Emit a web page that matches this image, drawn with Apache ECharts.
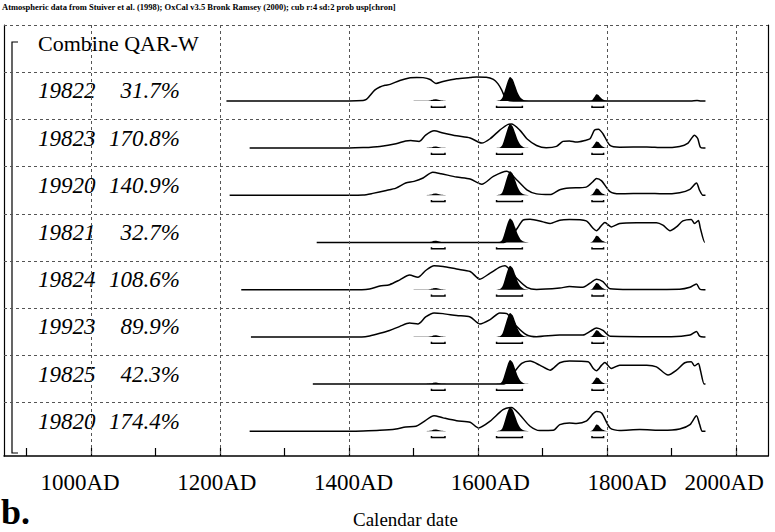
<!DOCTYPE html>
<html><head><meta charset="utf-8">
<script src="https://cdn.jsdelivr.net/npm/echarts@6/dist/echarts.min.js"></script>
<style>html,body{margin:0;padding:0;background:#fff}#c{width:775px;height:532px}</style>
</head><body><div id="c"></div><script>
// ---------- data ----------
const headerText = 'Atmospheric data from Stuiver et al. (1998); OxCal v3.5 Bronk Ramsey (2000); cub r:4 sd:2 prob usp[chron]';
const groupName = 'Combine QAR-W';
const sampleNames = ['19822','19823','19920','19821','19824','19923','19825','19820'];
const agreement = ['31.7%','170.8%','140.9%','32.7%','108.6%','89.9%','42.3%','174.4%'];
const rangeStart = [1210,1246,1215,1350,1233,1248,1344,1246];
const rangeEnd = 1953;
const tickYears = [900,1000,1100,1200,1300,1400,1500,1600,1700,1800,1900,2000];
const labelYears = [1000,1200,1400,1600,1800,2000];
const xLabel = 'Calendar date';
const panelTag = 'b.';

// combined posterior (same in every row), relative probability
const posterior = [[1500,0],[1520,0.005],[1526,0.02],[1530,0.05],[1534,0.07],[1540,0.04],[1547,0.01],[1555,0],
  [1626,0],[1631,0.01],[1635,0.04],[1638,0.13],[1642,0.45],[1646,0.8],[1650,1],[1654,0.9],[1658,0.62],[1662,0.33],[1666,0.14],[1671,0.04],[1676,0.01],[1682,0],
  [1773,0],[1777,0.03],[1781,0.17],[1784,0.28],[1787,0.25],[1790,0.15],[1794,0.06],[1799,0.01],[1805,0]];
// 95% ranges of the posterior
const rangeBars = [[1528,1549],[1629,1669],[1777,1795]];

// individual calibrated dates (priors), relative probability
const prior19822 = [[1400,0],[1422,0.02],[1427,0.06],[1432,0.2],[1440,0.45],[1448,0.58],[1456,0.65],[1464,0.69],[1479,0.85],[1495,0.96],[1505,0.98],[1515,0.97],[1526,0.89],[1535,0.73],[1546,0.81],[1567,0.92],[1588,0.97],[1598,1.0],[1613,0.99],[1624,0.9],[1631,0.72],[1637,0.45],[1642,0.15],[1647,0.02],[1655,0],[1930,0],[1940,0.02],[1946,0]];
const prior19823 = [[1400,0],[1422,0.02],[1448,0.07],[1473,0.18],[1488,0.3],[1496,0.32],[1509,0.28],[1519,0.54],[1532,0.72],[1546,0.63],[1567,0.51],[1588,0.42],[1606,0.21],[1619,0.39],[1634,0.75],[1647,0.99],[1652,1.0],[1665,0.75],[1676,0.39],[1691,0.11],[1706,0.01],[1722,0.07],[1732,0.28],[1742,0.3],[1753,0.25],[1766,0.32],[1774,0.39],[1781,0.75],[1787,0.79],[1794,0.6],[1805,0.11],[1820,0.04],[1862,0.05],[1887,0.02],[1913,0.07],[1926,0.21],[1936,0.54],[1941,0.4],[1945,0.04],[1950,0]];
const prior19920 = [[1400,0],[1422,0.01],[1437,0.08],[1458,0.2],[1473,0.3],[1488,0.51],[1501,0.58],[1515,0.72],[1530,0.96],[1543,0.9],[1567,0.76],[1588,0.68],[1606,0.46],[1624,0.79],[1645,1.0],[1660,0.65],[1676,0.23],[1691,0.06],[1712,0.03],[1727,0.23],[1742,0.3],[1768,0.34],[1779,0.58],[1784,0.7],[1792,0.6],[1805,0.15],[1820,0.06],[1862,0.08],[1887,0.06],[1913,0.11],[1929,0.25],[1939,0.51],[1944,0.2],[1949,0]];
const prior19821 = [[1640,0],[1650,0.2],[1656,0.42],[1660,0.55],[1670,0.93],[1681,0.97],[1701,0.86],[1712,0.79],[1727,0.93],[1742,0.96],[1768,0.9],[1779,0.58],[1784,0.49],[1792,0.72],[1797,0.83],[1807,0.65],[1820,0.79],[1846,0.82],[1877,0.82],[1887,0.72],[1898,0.49],[1908,0.65],[1918,0.9],[1931,0.96],[1936,0.79],[1942,0.92],[1945,0.6],[1952,0]];
const prior19824 = [[1420,0],[1432,0.03],[1448,0.15],[1463,0.21],[1479,0.41],[1494,0.61],[1507,0.52],[1519,0.8],[1532,1.0],[1546,0.97],[1567,0.86],[1588,0.76],[1603,0.44],[1619,0.69],[1634,0.94],[1642,1.0],[1660,0.48],[1676,0.1],[1691,0.01],[1727,0.07],[1742,0.13],[1763,0.1],[1774,0.27],[1784,0.44],[1794,0.34],[1805,0.04],[1836,0.01],[1913,0.02],[1929,0.1],[1939,0.24],[1944,0.03],[1950,0]];
const prior19923 = [[1420,0],[1432,0.04],[1448,0.15],[1463,0.27],[1479,0.44],[1494,0.58],[1507,0.54],[1519,0.83],[1532,1.0],[1546,0.97],[1567,0.89],[1588,0.83],[1603,0.54],[1619,0.72],[1634,1.0],[1645,0.97],[1660,0.44],[1676,0.08],[1691,0.01],[1727,0.08],[1763,0.08],[1774,0.23],[1784,0.37],[1794,0.27],[1805,0.03],[1900,0.01],[1929,0.08],[1939,0.23],[1944,0.03],[1950,0]];
const prior19825 = [[1640,0],[1650,0.2],[1655,0.44],[1668,0.86],[1681,0.96],[1696,0.79],[1712,0.58],[1727,0.89],[1742,0.96],[1771,0.93],[1779,0.65],[1784,0.56],[1792,0.79],[1797,0.9],[1807,0.65],[1820,0.79],[1862,0.79],[1877,0.72],[1895,0.38],[1908,0.58],[1921,0.89],[1931,0.93],[1936,0.76],[1942,0.86],[1945,0.6],[1951,0]];
const prior19820 = [[1400,0],[1422,0.01],[1448,0.04],[1473,0.1],[1488,0.18],[1504,0.21],[1515,0.38],[1532,0.65],[1546,0.56],[1567,0.44],[1588,0.38],[1601,0.14],[1619,0.42],[1639,0.9],[1652,0.99],[1665,0.69],[1681,0.21],[1696,0.03],[1717,0.04],[1727,0.28],[1742,0.35],[1753,0.33],[1768,0.42],[1779,0.74],[1784,0.83],[1792,0.76],[1805,0.14],[1820,0.03],[1851,0.07],[1887,0.04],[1913,0.1],[1929,0.28],[1939,0.65],[1944,0.28],[1948,0]];
const priors = [prior19822,prior19823,prior19920,prior19821,prior19824,prior19923,prior19825,prior19820];

// ---------- layout ----------
const FONT = "'Liberation Serif','Times New Roman',serif";
const X_MIN = 865, X_MAX = 2050;
// the printed tick labels sit on a slightly wider spacing than the tick marks
const LABEL_MIN = 888.85, LABEL_MAX = 2006.2;
const TOP = 25, ROW = 47.2, BOTTOM_LINE = 456, UNIT = 24, BASE_OFF = 28.7;
const GL = 4, GR = 7;
const Y_LO = -0.35, Y_HI = 1.02;

const grids = [{left:GL, right:GR, top:TOP, height:BOTTOM_LINE-TOP}];
const xAxes = [{
  type:'value', gridIndex:0, min:X_MIN, max:X_MAX, position:'bottom',
  axisLine:{show:true, onZero:false, lineStyle:{color:'#000', width:1.5}},
  axisTick:{show:true, inside:true, length:8, customValues:tickYears, lineStyle:{color:'#000', width:1.2}},
  axisLabel:{show:false},
  splitLine:{show:false}
},{
  type:'value', gridIndex:0, min:LABEL_MIN, max:LABEL_MAX, position:'bottom', offset:0,
  axisLine:{show:false, onZero:false}, axisTick:{show:false},
  axisLabel:{show:true, customValues:labelYears, formatter:v=>v+'AD', color:'#000', fontFamily:FONT, fontSize:23, margin:15, alignMaxLabel:'right'},
  splitLine:{show:false}
}];
const yAxes = [
  {type:'value', gridIndex:0, inverse:true, min:0, max:(BOTTOM_LINE-TOP)/ROW, position:'left',
   axisLine:{show:true, onZero:false, lineStyle:{color:'#000', width:1.2}}, axisTick:{show:false}, axisLabel:{show:false}, splitLine:{show:false}},
  {type:'value', gridIndex:0, inverse:true, min:0, max:(BOTTOM_LINE-TOP)/ROW, position:'right',
   axisLine:{show:true, onZero:false, lineStyle:{color:'#000', width:1.2}}, axisTick:{show:false}, axisLabel:{show:false}, splitLine:{show:false}}
];
const separators = [0,1,2,3,4,5,6,7,8];
const X_OFF = 2, Y_OFF = 2;

const series = [{
  type:'line', xAxisIndex:0, yAxisIndex:0, data:[], silent:true,
  markLine:{silent:true, symbol:['none','none'], label:{show:false},
    lineStyle:{color:'#555', type:[3,3], width:1},
    data: separators.map(k=>({yAxis:k})).concat(labelYears.map(y=>({xAxis:y})))}
}];
const graphics = [];

sampleNames.forEach((name,i)=>{
  const base = TOP + ROW*(i+1) + BASE_OFF;
  grids.push({left:GL, right:GR, top: base - Y_HI*UNIT, height:(Y_HI - Y_LO)*UNIT});
  xAxes.push({type:'value', gridIndex:i+1, min:X_MIN, max:X_MAX, show:false});
  yAxes.push({type:'value', gridIndex:i+1, min:Y_LO, max:Y_HI, show:false});
  const xi = i+X_OFF, yi = i+Y_OFF;
  series.push({
    type:'line', xAxisIndex:xi, yAxisIndex:yi, data:posterior, smooth:0.25, symbol:'none', silent:true,
    lineStyle:{color:'#000', width:0}, areaStyle:{color:'#000', opacity:1, origin:'auto'}, z:2
  });
  const pr = [[rangeStart[i],0]].concat(priors[i]).concat([[rangeEnd,0]]);
  series.push({
    type:'line', xAxisIndex:xi, yAxisIndex:yi, data:pr, smooth:0.25, symbol:'none', silent:true,
    lineStyle:{color:'#000', width:1.5}, z:3
  });
  series.push({
    type:'custom', xAxisIndex:xi, yAxisIndex:yi, data:rangeBars, silent:true, z:3,
    encode:{x:[0,1]},
    renderItem:(params, api)=>{
      const a = api.coord([api.value(0), -0.26]);
      const b = api.coord([api.value(1), -0.26]);
      return {type:'polyline', shape:{points:[[a[0],a[1]-1.5],[a[0],a[1]],[b[0],b[1]],[b[0],b[1]-1.5]]}, style:{stroke:'#000', lineWidth:1.5, fill:null}};
    }
  });
  graphics.push({type:'text', left:38, top: base - 9 - 12.5, style:{text:name, font:`italic 23px ${FONT}`, fill:'#000'}});
  graphics.push({type:'text', right: 775-180, top: base - 9 - 12.5, style:{text:agreement[i], font:`italic 23px ${FONT}`, fill:'#000', textAlign:'right'}});
});

graphics.push({type:'text', left:2, top:2, style:{text:headerText, font:`bold 8.5px ${FONT}`, fill:'#000'}});
graphics.push({type:'text', left:38, top:32, style:{text:groupName, font:`22px ${FONT}`, fill:'#000'}});
graphics.push({type:'polyline', shape:{points:[[18,42],[12,42],[12,453],[18,453]]}, style:{stroke:'#000', lineWidth:1.2, fill:null}});
graphics.push({type:'text', left:1, top:494, style:{text:panelTag, font:`bold 36px ${FONT}`, fill:'#000'}});
graphics.push({type:'text', left:353, top:510, style:{text:xLabel, font:`19px ${FONT}`, fill:'#000'}});

const chart = echarts.init(document.getElementById('c'), null, {renderer:'svg', width:775, height:532});
chart.setOption({
  animation:false, backgroundColor:'#fff',
  grid:grids, xAxis:xAxes, yAxis:yAxes, series:series, graphic:graphics
});
</script></body></html>
